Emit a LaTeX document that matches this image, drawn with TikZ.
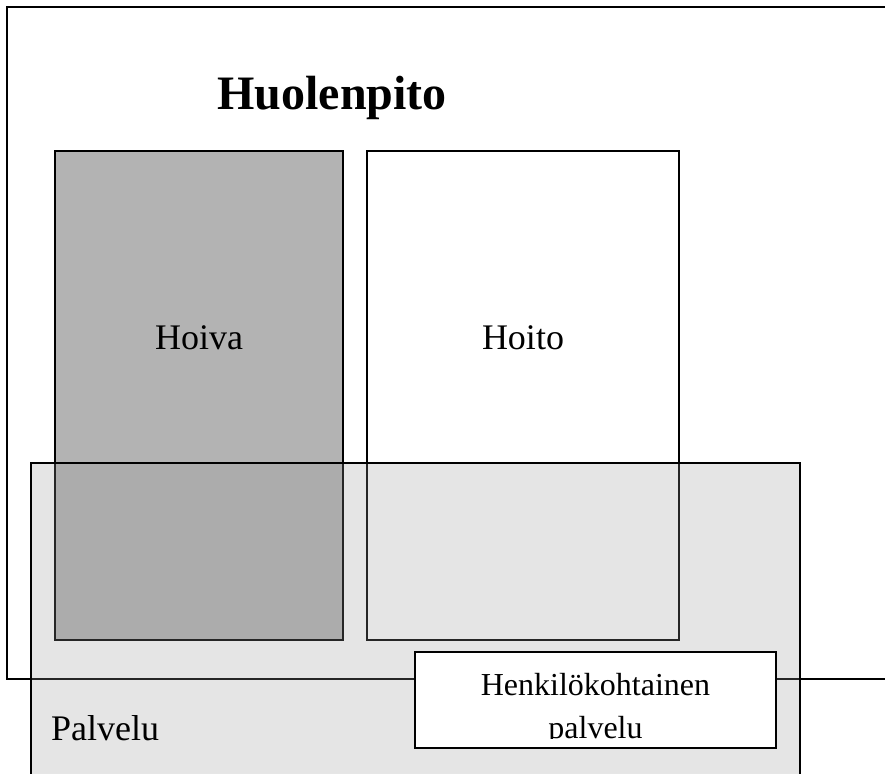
\documentclass[tikz,border=0pt]{standalone}
\usepackage{fontspec}
\setmainfont{Liberation Serif}
\definecolor{hoivagray}{RGB}{179,179,179}
\definecolor{palgray}{RGB}{155,155,155}
\begin{document}
\begin{tikzpicture}[x=1pt,y=-1pt,
  box/.style={line width=1.8pt, draw=black},
  label/.style={inner sep=0pt, anchor=base, font=\fontsize{36}{43}\selectfont}]
\useasboundingbox (0,0) rectangle (885,773);
\clip (0,0) rectangle (885,773);
\fill[white] (0,0) rectangle (885,773);
% outer frame Huolenpito
\draw[box] (7,7) rectangle (905,679);
\node[inner sep=0pt, anchor=base, font=\bfseries\fontsize{48}{58}\selectfont] (title) at (332,110) {Huolenpito};
% Hoiva
\draw[box, fill=hoivagray] (55,151) coordinate (hoivaNW) rectangle (343,640) coordinate (hoivaSE);
\node[label] (hoiva) at (199,349) {Hoiva};
% Hoito
\draw[box] (367,151) coordinate (hoitoNW) rectangle (679,640) coordinate (hoitoSE);
\node[label] (hoito) at (523,349) {Hoito};
% Palvelu
\fill[palgray, fill opacity=0.25] (31,463) rectangle (800,800);
\draw[box] (31,463) coordinate (palNW) rectangle (800,800) coordinate (palSE);
\node[label, anchor=base west] (palvelu) at (51,740) {Palvelu};
% Henkilokohtainen palvelu
\draw[box, fill=white] (415,652) coordinate (henkNW) rectangle (776,748) coordinate (henkSE);
\begin{scope}
\clip (415,652) rectangle (776,738);
\node[inner sep=0pt, anchor=base, font=\fontsize{32}{40}\selectfont] (henk1) at (595.5,695) {Henkilökohtainen};
\node[inner sep=0pt, anchor=base, font=\fontsize{32}{40}\selectfont] (henk2) at (595.5,738) {palvelu};
\end{scope}
\end{tikzpicture}
\end{document}
